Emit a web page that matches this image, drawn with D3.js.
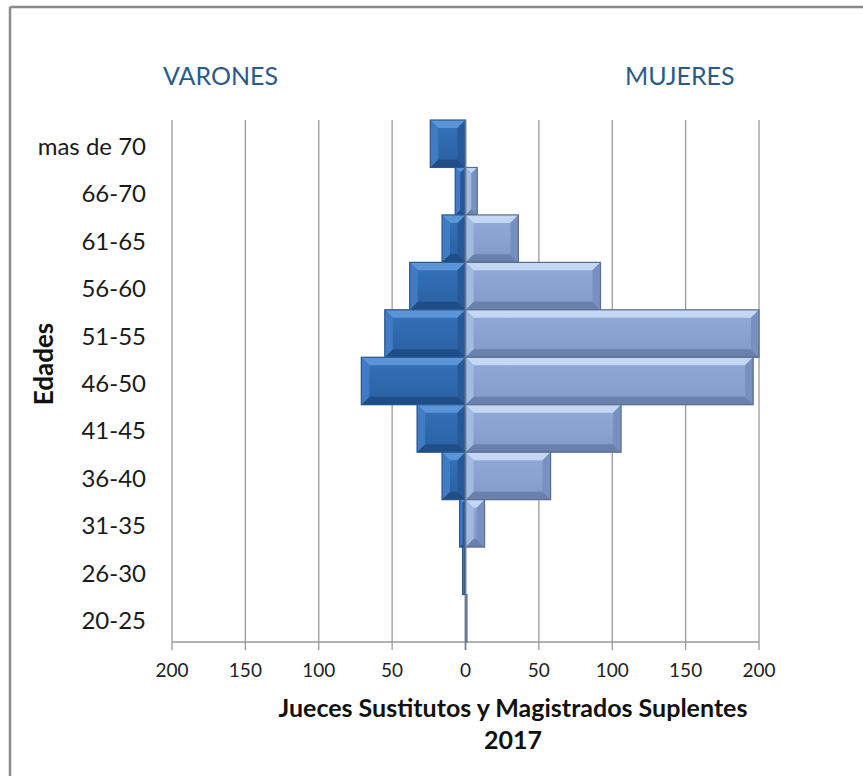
<!DOCTYPE html>
<html>
<head>
<meta charset="utf-8" />
<script src="https://cdn.jsdelivr.net/npm/d3@7"></script>
<style type="text/css">
html, body {
  margin: 0;
  padding: 0;
  background: #fff;
}
svg text {
  font-family: Lato, "Open Sans", sans-serif;
}
.grid line {
  stroke: #9a9a9a;
  stroke-width: 1.3;
}
.cat {
  font-size: 24px;
  fill: #1a1a1a;
}
.tick-label {
  font-size: 19px;
  fill: #222;
}
.side {
  font-size: 25px;
  fill: #2a5a8c;
}
.title {
  font-size: 25px;
  font-weight: bold;
  fill: #111;
}
</style>
</head>
<body>
<script type="text/javascript">
// age groups, top to bottom as in the picture
var categories = ['mas de 70', '66-70', '61-65', '56-60', '51-55', '46-50',
                  '41-45', '36-40', '31-35', '26-30', '20-25'];
// varones (drawn to the left)
var men = [24, 7, 16, 38, 55, 71, 33, 16, 4, 2, 0];
// mujeres (drawn to the right)
var women = [0, 8, 36, 92, 200, 196, 106, 58, 13, 0, 1];
var tickValues = [-200, -150, -100, -50, 0, 50, 100, 150, 200];

var width = 863, height = 776;

var svg = d3.select('body').append('svg')
  .attr('width', width)
  .attr('height', height);

// outer frame (only top and left edges are visible in the picture)
svg.append('line').attr('x1', 10).attr('y1', 7).attr('x2', width).attr('y2', 7)
  .attr('stroke', '#8c8c8c').attr('stroke-width', 2.5);
svg.append('line').attr('x1', 10).attr('y1', 7).attr('x2', 10).attr('y2', height)
  .attr('stroke', '#8c8c8c').attr('stroke-width', 2.5);

var x = d3.scaleLinear().domain([-200, 200]).range([172, 759]);
var y = d3.scaleBand().domain(categories).range([120, 642]).padding(0);

// vertical gridlines, running a little below the axis as tick marks
var grid = svg.append('g').attr('class', 'grid');
grid.selectAll('line').data(tickValues).enter().append('line')
  .attr('x1', function(d) { return x(d); })
  .attr('x2', function(d) { return x(d); })
  .attr('y1', 120)
  .attr('y2', 650);
grid.append('line')
  .attr('x1', x(-200)).attr('x2', x(200))
  .attr('y1', 642).attr('y2', 642);

// bevel gradients
var defs = svg.append('defs');
function grad(id, stops) {
  var g = defs.append('linearGradient').attr('id', id)
    .attr('x1', 0).attr('y1', 0).attr('x2', 0).attr('y2', 1);
  stops.forEach(function(s) {
    g.append('stop').attr('offset', s[0]).attr('stop-color', s[1]);
  });
}
grad('menFill', [[0, '#3573bb'], [0.5, '#2f68ad'], [1, '#2b61a3']]);
grad('womenFill', [[0, '#90aad8'], [0.5, '#8aa3d1'], [1, '#8199c7']]);

var styles = {
  men:   { fill: 'url(#menFill)', top: '#5a95d8', bottom: '#1f4d85', left: '#3f7cc4', right: '#27599a', stroke: '#2a5790' },
  women: { fill: 'url(#womenFill)', top: '#c4d8f5', bottom: '#6a80ad', left: '#a3bbe3', right: '#7890bf', stroke: '#5b6c8c' }
};

function drawBars(cls, values, sign) {
  var st = styles[cls];
  var g = svg.append('g').attr('class', cls);
  var bars = g.selectAll('g').data(values.map(function(v, i) {
    return { cat: categories[i], v: v };
  })).enter().append('g')
    .filter(function(d) { return d.v > 0; });

  bars.each(function(d) {
    var x0 = Math.min(x(0), x(sign * d.v));
    var x1 = Math.max(x(0), x(sign * d.v));
    var y0 = y(d.cat), y1 = y(d.cat) + y.bandwidth();
    var b = Math.min(8, (x1 - x0) / 2, (y1 - y0) / 2);
    var sel = d3.select(this);
    sel.append('rect')
      .attr('x', x0).attr('y', y0)
      .attr('width', x1 - x0).attr('height', y1 - y0)
      .attr('fill', st.fill);
    var poly = function(pts, c) {
      sel.append('polygon')
        .attr('points', pts.map(function(p) { return p.join(','); }).join(' '))
        .attr('fill', c);
    };
    poly([[x0, y0], [x1, y0], [x1 - b, y0 + b], [x0 + b, y0 + b]], st.top);
    poly([[x0, y1], [x1, y1], [x1 - b, y1 - b], [x0 + b, y1 - b]], st.bottom);
    poly([[x0, y0], [x0 + b, y0 + b], [x0 + b, y1 - b], [x0, y1]], st.left);
    poly([[x1, y0], [x1 - b, y0 + b], [x1 - b, y1 - b], [x1, y1]], st.right);
    sel.append('rect')
      .attr('x', x0).attr('y', y0)
      .attr('width', x1 - x0).attr('height', y1 - y0)
      .attr('fill', 'none')
      .attr('stroke', st.stroke).attr('stroke-width', 1.2);
  });
}
drawBars('men', men, -1);
drawBars('women', women, 1);

// zero line over the bars
svg.append('line')
  .attr('x1', x(0)).attr('x2', x(0)).attr('y1', 120).attr('y2', 650)
  .attr('stroke', '#6d7a8c').attr('stroke-width', 1.5);

// x tick labels (absolute values)
svg.append('g').selectAll('text').data(tickValues).enter().append('text')
  .attr('class', 'tick-label')
  .attr('x', function(d) { return x(d); })
  .attr('y', 677)
  .attr('text-anchor', 'middle')
  .text(function(d) { return Math.abs(d); });

// category labels
svg.append('g').selectAll('text').data(categories).enter().append('text')
  .attr('class', 'cat')
  .attr('x', 146)
  .attr('y', function(d) { return y(d) + y.bandwidth() / 2 + 11; })
  .attr('text-anchor', 'end')
  .text(function(d) { return d; });

svg.append('text')
  .attr('class', 'title')
  .style('font-size', '26px')
  .attr('transform', 'translate(53,364) rotate(-90)')
  .attr('text-anchor', 'middle')
  .text('Edades');

svg.append('text').attr('class', 'side')
  .attr('x', 163).attr('y', 85).text('VARONES');
svg.append('text').attr('class', 'side')
  .attr('x', 625).attr('y', 85).text('MUJERES');

svg.append('text').attr('class', 'title')
  .attr('x', 513).attr('y', 717).attr('text-anchor', 'middle')
  .text('Jueces Sustitutos y Magistrados Suplentes');
svg.append('text').attr('class', 'title')
  .attr('x', 513).attr('y', 749).attr('text-anchor', 'middle')
  .text('2017');
</script>
</body>
</html>
